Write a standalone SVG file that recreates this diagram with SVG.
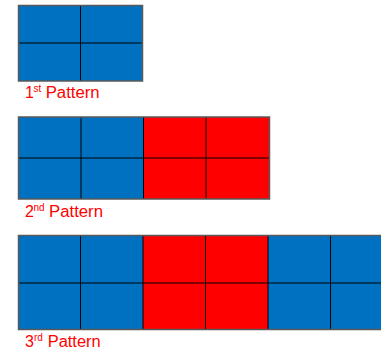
<svg xmlns="http://www.w3.org/2000/svg" width="381" height="350" viewBox="0 0 381 350">
<style>
.b{fill:#0070C0}
.r{fill:#FF0000}
.o{fill:none;stroke:#595959;stroke-width:1.5}
.g{stroke:#000;stroke-width:1;fill:none}
.t{font-family:"Liberation Sans",Arial,sans-serif;fill:#FF0000;font-size:16px}
.s{font-size:10px}
</style>
<rect width="381" height="350" fill="#fff"/>
<g id="pattern1">
<rect class="b" x="18.5" y="5.5" width="124" height="75.5"/>
<path class="g" d="M80.5 5.5V81M18.5 43H142.5"/>
<rect class="o" x="18.5" y="5.5" width="124" height="75.5"/>
<text class="t" x="25" y="98">1</text><text class="t s" x="33.5" y="92">st</text><text class="t" x="45.7" y="98" textLength="54" lengthAdjust="spacingAndGlyphs">Pattern</text>
</g>
<g id="pattern2">
<rect class="b" x="18.5" y="117" width="125" height="82"/>
<rect class="r" x="143.5" y="117" width="126" height="82"/>
<path class="g" d="M81 117V199M143.5 117V199M206 117V199M18.5 158H269.5"/>
<rect class="o" x="18.5" y="117" width="251" height="82"/>
<text class="t" x="25" y="216.5">2</text><text class="t s" x="33.5" y="210.5">nd</text><text class="t" x="49" y="216.5" textLength="54" lengthAdjust="spacingAndGlyphs">Pattern</text>
</g>
<g id="pattern3">
<rect class="b" x="18.5" y="235.5" width="124.5" height="94"/>
<rect class="r" x="143" y="235.5" width="125" height="94"/>
<rect class="b" x="268" y="235.5" width="125" height="94"/>
<path class="g" d="M80.5 235.5V329.5M143 235.5V329.5M205.5 235.5V329.5M268 235.5V329.5M330.5 235.5V329.5M18.5 283H393"/>
<rect class="o" x="18.5" y="235.5" width="380" height="94"/>
<text class="t" x="25" y="346.5">3</text><text class="t s" x="34" y="340.5">rd</text><text class="t" x="47.7" y="346.5" textLength="53" lengthAdjust="spacingAndGlyphs">Pattern</text>
</g>
</svg>
